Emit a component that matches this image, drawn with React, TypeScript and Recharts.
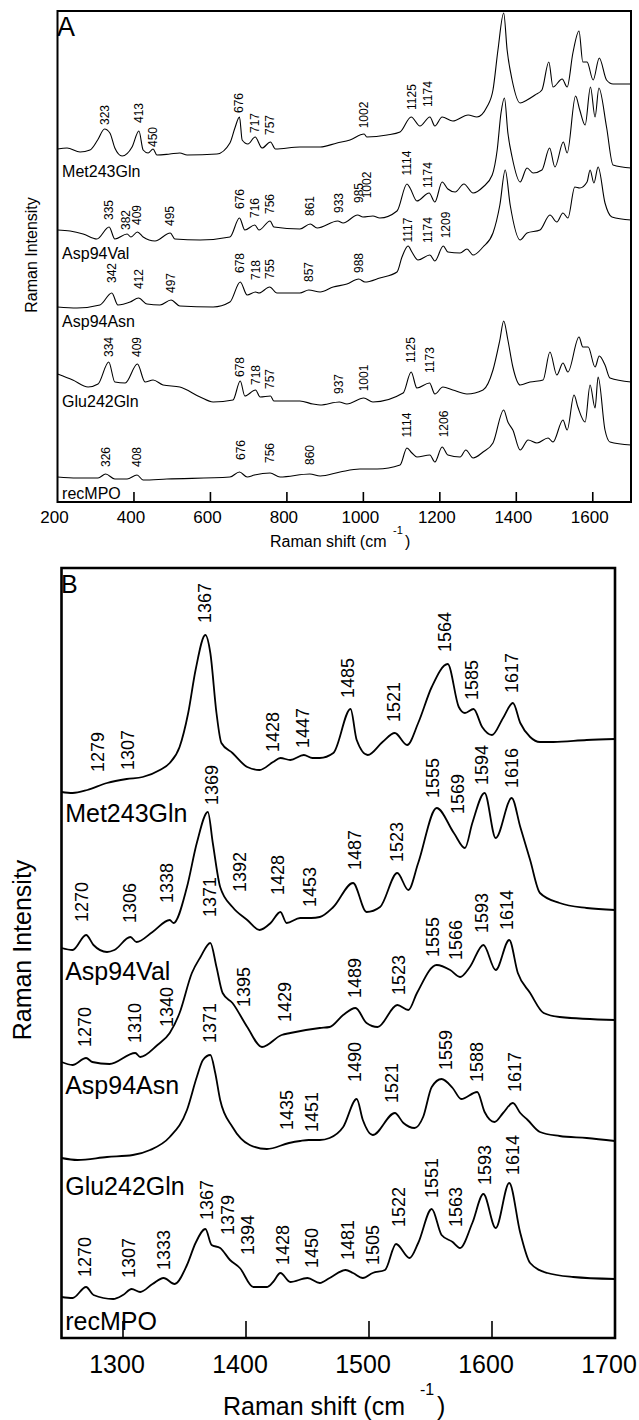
import React from "react";
import { ComposedChart, Line, Scatter, XAxis, YAxis, ReferenceArea } from "recharts";

type Pt = [number, number];
type Peak = [string, number, number];

const FONT = '"Liberation Sans", Arial, Helvetica, sans-serif';

// ---- Panel A (200-1700 cm-1), intensities in arbitrary offset units ----
const metA: Pt[] = [
  [200, 353], [225, 354], [259, 350], [285, 352], [305, 362], [323, 373], [337, 369], [350, 354],
  [369, 346], [395, 355], [413, 371], [424, 352], [437, 349], [450, 353], [460, 347], [494, 348],
  [520, 349], [539, 347], [617, 348], [651, 359], [664, 374], [676, 385], [683, 362], [698, 358],
  [717, 365], [735, 354], [757, 360], [770, 353], [834, 355], [887, 355], [931, 359], [965, 362],
  [1002, 368], [1009, 365], [1062, 367], [1096, 370], [1125, 385], [1148, 376], [1174, 385],
  [1187, 376], [1206, 385], [1234, 381], [1274, 387], [1297, 385], [1323, 395], [1339, 412],
  [1352, 452], [1367, 489], [1376, 452], [1389, 422], [1410, 399], [1428, 402], [1449, 407],
  [1467, 412], [1485, 440], [1496, 415], [1520, 423], [1533, 415], [1548, 449], [1564, 471],
  [1574, 440], [1585, 440], [1601, 422], [1617, 444], [1636, 422], [1653, 418], [1700, 418],
];
const valA: Pt[] = [
  [200, 272], [233, 271], [267, 268], [303, 263], [335, 275], [350, 263], [382, 268], [392, 265],
  [409, 270], [424, 265], [455, 261], [495, 269], [507, 263], [573, 262], [651, 265], [676, 284],
  [690, 272], [716, 277], [727, 272], [756, 281], [766, 275], [834, 273], [861, 278], [879, 274],
  [933, 281], [947, 279], [985, 287], [999, 285], [1025, 286], [1043, 284], [1088, 291],
  [1114, 318], [1122, 314], [1140, 301], [1172, 309], [1187, 300], [1206, 320], [1221, 313],
  [1240, 310], [1263, 318], [1287, 309], [1313, 315], [1337, 327], [1350, 352], [1360, 389],
  [1369, 404], [1378, 369], [1389, 345], [1410, 320], [1428, 334], [1444, 329], [1467, 332],
  [1487, 354], [1501, 335], [1523, 360], [1533, 349], [1555, 406], [1566, 392], [1580, 377],
  [1594, 415], [1606, 385], [1616, 414], [1636, 375], [1653, 337], [1700, 334],
];
const asnA: Pt[] = [
  [200, 195], [251, 194], [311, 197], [342, 209], [358, 197], [390, 200], [412, 204], [434, 198],
  [468, 197], [497, 202], [520, 196], [607, 195], [651, 200], [678, 220], [696, 207], [718, 210],
  [727, 209], [755, 215], [774, 209], [834, 209], [857, 212], [887, 210], [921, 215], [957, 218],
  [988, 223], [1004, 220], [1043, 224], [1088, 230], [1101, 245], [1117, 256], [1127, 250],
  [1143, 242], [1174, 247], [1187, 241], [1209, 256], [1221, 250], [1253, 249], [1271, 253],
  [1287, 247], [1313, 255], [1339, 269], [1357, 297], [1371, 332], [1384, 297], [1410, 262],
  [1428, 269], [1462, 272], [1488, 287], [1506, 280], [1522, 289], [1535, 284], [1553, 315],
  [1566, 314], [1585, 320], [1593, 332], [1603, 319], [1614, 335], [1632, 299], [1650, 285],
  [1700, 282],
];
const glnA: Pt[] = [
  [200, 128], [240, 122], [280, 115], [306, 118], [334, 140], [350, 120], [377, 119], [409, 138],
  [429, 120], [450, 122], [476, 117], [520, 115], [573, 105], [607, 100], [659, 102], [678, 121],
  [690, 106], [718, 112], [730, 105], [757, 106], [766, 101], [834, 101], [868, 98], [887, 97],
  [937, 100], [957, 98], [1001, 104], [1025, 100], [1104, 109], [1125, 130], [1140, 114],
  [1173, 119], [1187, 108], [1208, 115], [1234, 112], [1271, 108], [1313, 112], [1339, 132],
  [1357, 162], [1367, 181], [1378, 162], [1391, 135], [1410, 117], [1436, 120], [1470, 122],
  [1488, 150], [1506, 127], [1522, 139], [1535, 130], [1564, 165], [1574, 155], [1588, 155],
  [1606, 135], [1617, 146], [1632, 137], [1645, 124], [1700, 120],
];
const recA: Pt[] = [
  [200, 25], [251, 24], [306, 24], [326, 28], [350, 23], [382, 23], [408, 27], [424, 22],
  [486, 23], [651, 25], [676, 30], [696, 25], [715, 27], [756, 29], [782, 25], [860, 28],
  [887, 26], [939, 30], [991, 33], [1036, 33], [1096, 37], [1114, 54], [1127, 49], [1140, 45],
  [1174, 47], [1187, 40], [1206, 55], [1221, 47], [1253, 45], [1268, 52], [1287, 44], [1313, 50],
  [1339, 59], [1367, 92], [1378, 80], [1391, 72], [1410, 52], [1431, 62], [1454, 59], [1483, 64],
  [1496, 60], [1522, 82], [1533, 72], [1551, 107], [1561, 95], [1580, 80], [1593, 117],
  [1606, 94], [1614, 125], [1632, 72], [1645, 60], [1700, 57],
];

// peak labels: [text, position cm-1, level]
const peaksA: Peak[] = [
  ["323", 323, 387], ["413", 413, 389], ["450", 450, 365], ["676", 676, 399], ["717", 717, 379],
  ["757", 757, 377], ["1002", 1002, 387], ["1125", 1128, 405], ["1174", 1170, 408],
  ["335", 335, 292], ["382", 380, 282], ["409", 408, 287], ["495", 495, 286], ["676", 678, 303],
  ["716", 716, 294], ["756", 756, 298], ["861", 861, 296], ["933", 936, 299], ["985", 988, 309],
  ["1002", 1009, 317], ["1114", 1114, 339], ["1174", 1170, 327],
  ["342", 342, 229], ["412", 412, 223], ["497", 497, 219], ["678", 678, 239], ["718", 718, 232],
  ["755", 755, 233], ["857", 857, 230], ["988", 988, 239], ["1117", 1117, 272], ["1174", 1170, 272],
  ["1209", 1217, 277],
  ["334", 334, 155], ["409", 409, 155], ["678", 678, 135], ["718", 718, 127], ["757", 757, 123],
  ["937", 937, 118], ["1001", 1001, 124], ["1125", 1125, 152], ["1173", 1175, 142],
  ["326", 326, 45], ["408", 408, 45], ["676", 680, 52], ["756", 756, 49], ["860", 860, 47],
  ["1114", 1114, 77], ["1206", 1210, 78],
];

const names = ["Met243Gln", "Asp94Val", "Asp94Asn", "Glu242Gln", "recMPO"];
const nameLevelsA = [331, 249, 181, 101, 9];
const nameLevelsB = [525, 367, 253, 152, 17];

// ---- Panel B (1250-1700 cm-1) ----
const metB: Pt[] = [
  [1250, 546], [1259, 545], [1271, 548], [1287, 555], [1303, 559], [1316, 561], [1330, 568],
  [1338, 575], [1346, 591], [1353, 625], [1359, 668], [1367, 703], [1371, 685], [1376, 625],
  [1380, 595], [1389, 585], [1401, 571], [1411, 568], [1422, 576], [1428, 580], [1436, 578],
  [1447, 583], [1454, 580], [1460, 580], [1471, 585], [1485, 629], [1490, 598], [1499, 583],
  [1511, 596], [1521, 605], [1531, 593], [1540, 615], [1551, 651], [1564, 674], [1573, 631],
  [1578, 625], [1585, 629], [1592, 611], [1600, 603], [1609, 620], [1617, 635], [1623, 615],
  [1631, 601], [1639, 596], [1650, 596], [1677, 598], [1700, 599],
];
const valB: Pt[] = [
  [1250, 390], [1259, 388], [1270, 403], [1276, 393], [1287, 386], [1293, 388], [1306, 401],
  [1311, 396], [1324, 406], [1338, 418], [1341, 415], [1352, 451], [1360, 495], [1369, 526],
  [1373, 495], [1379, 451], [1389, 431], [1401, 418], [1411, 408], [1420, 415], [1428, 426],
  [1433, 415], [1444, 420], [1453, 420], [1460, 421], [1471, 431], [1487, 455], [1498, 426],
  [1509, 431], [1523, 465], [1532, 448], [1540, 475], [1555, 530], [1569, 505], [1578, 490],
  [1584, 515], [1594, 545], [1603, 500], [1616, 540], [1623, 511], [1631, 478], [1639, 445],
  [1655, 435], [1677, 430], [1700, 428],
];
const asnB: Pt[] = [
  [1250, 276], [1259, 273], [1270, 280], [1275, 276], [1289, 274], [1310, 285], [1314, 281],
  [1328, 293], [1338, 305], [1346, 325], [1356, 365], [1363, 381], [1371, 395], [1376, 371],
  [1381, 345], [1389, 335], [1401, 311], [1413, 291], [1429, 303], [1436, 305], [1460, 310],
  [1468, 311], [1479, 323], [1489, 330], [1498, 315], [1507, 311], [1523, 333], [1532, 328],
  [1539, 345], [1555, 373], [1566, 368], [1574, 361], [1582, 371], [1593, 393], [1603, 368],
  [1614, 398], [1621, 365], [1631, 345], [1642, 325], [1655, 321], [1700, 318],
];
const glnB: Pt[] = [
  [1250, 180], [1263, 178], [1287, 181], [1308, 183], [1322, 188], [1338, 201], [1352, 228],
  [1360, 261], [1365, 278], [1371, 283], [1375, 265], [1379, 238], [1389, 211], [1403, 193],
  [1417, 189], [1435, 195], [1444, 197], [1451, 198], [1460, 198], [1468, 200], [1479, 211],
  [1490, 239], [1495, 218], [1503, 203], [1521, 225], [1528, 215], [1537, 210], [1544, 221],
  [1551, 251], [1559, 259], [1568, 250], [1575, 239], [1588, 246], [1594, 226], [1602, 216],
  [1609, 225], [1617, 235], [1623, 225], [1629, 218], [1639, 206], [1655, 202], [1677, 200],
  [1700, 197],
];
const recB: Pt[] = [
  [1250, 41], [1259, 40], [1270, 51], [1276, 43], [1292, 39], [1300, 43], [1307, 49], [1314, 46],
  [1324, 54], [1333, 60], [1342, 54], [1352, 73], [1359, 95], [1367, 109], [1372, 93], [1379, 90],
  [1387, 78], [1395, 70], [1406, 51], [1417, 51], [1422, 56], [1428, 65], [1436, 56], [1450, 60],
  [1460, 55], [1468, 60], [1481, 68], [1487, 65], [1495, 60], [1503, 65], [1513, 68], [1522, 94],
  [1533, 80], [1540, 95], [1551, 129], [1559, 103], [1568, 96], [1574, 90], [1584, 115],
  [1593, 144], [1603, 110], [1614, 155], [1623, 105], [1631, 75], [1645, 65], [1666, 61],
  [1700, 59],
];

const peaksB: Peak[] = [
  ["1279", 1280, 586], ["1307", 1304, 588], ["1367", 1367, 735], ["1428", 1422, 606],
  ["1447", 1446, 610], ["1485", 1483, 660], ["1521", 1520, 636], ["1564", 1562, 706],
  ["1585", 1584, 658], ["1617", 1616, 665],
  ["1270", 1267, 436], ["1306", 1306, 435], ["1338", 1336, 455], ["1369", 1372, 553],
  ["1392", 1395, 466], ["1428", 1426, 463], ["1453", 1452, 451], ["1487", 1489, 488],
  ["1523", 1523, 496], ["1555", 1552, 560], ["1569", 1572, 544], ["1594", 1592, 573],
  ["1616", 1616, 570],
  ["1270", 1269, 311], ["1310", 1310, 315], ["1340", 1336, 331], ["1371", 1371, 441],
  ["1395", 1398, 351], ["1429", 1432, 336], ["1489", 1489, 360], ["1523", 1524, 363],
  ["1555", 1552, 401], ["1566", 1571, 398], ["1593", 1592, 425], ["1614", 1612, 428],
  ["1371", 1371, 315], ["1435", 1433, 228], ["1451", 1454, 226], ["1490", 1489, 276],
  ["1521", 1519, 255], ["1559", 1563, 288], ["1588", 1588, 276], ["1617", 1619, 266],
  ["1270", 1269, 81], ["1307", 1305, 80], ["1333", 1333, 88], ["1367", 1368, 138],
  ["1379", 1385, 123], ["1394", 1402, 103], ["1428", 1430, 93], ["1450", 1454, 90],
  ["1481", 1483, 98], ["1505", 1503, 93], ["1522", 1524, 131], ["1551", 1551, 160],
  ["1563", 1571, 131], ["1593", 1594, 173], ["1614", 1617, 183],
];

const ticksA = [200, 400, 600, 800, 1000, 1200, 1400, 1600];
const ticksB = [1300, 1400, 1500, 1600, 1700];

const toXY = (pts: Pt[]) => pts.map(([x, y]) => ({ x, y }));

const makeTick = (len: number, size: number, dy: number, dx: number, edges: number[]) => (props: any) => {
  const { x, y, payload } = props;
  return (
    <g>
      {!edges.includes(payload.value) && (
        <line x1={x} x2={x} y1={y} y2={y - len} stroke="#000" strokeWidth={1.6} />
      )}
      <text x={x + dx} y={y + dy} textAnchor="middle" fontSize={size} fontFamily={FONT} fill="#000">
        {payload.value}
      </text>
    </g>
  );
};

const peakShape = (size: number) => (props: any) => {
  const { cx, cy, payload } = props;
  return (
    <text
      x={cx}
      y={cy}
      transform={`rotate(-90 ${cx} ${cy})`}
      textAnchor="middle"
      dominantBaseline="central"
      fontSize={size}
      fontFamily={FONT}
      fill="#000"
    >
      {payload.text}
    </text>
  );
};

const nameShape = (size: number) => (props: any) => {
  const { cx, cy, payload } = props;
  return (
    <text x={cx} y={cy} dominantBaseline="central" fontSize={size} fontFamily={FONT} fill="#000">
      {payload.text}
    </text>
  );
};

interface PanelProps {
  spectra: Pt[][];
  peaks: Peak[];
  nameAt: number;
  nameLevels: number[];
  domain: [number, number];
  top: number;
  height: number;
  yMax: number;
  margin: { top: number; right: number; bottom: number; left: number };
  ticks: number[];
  tickLen: number;
  tickSize: number;
  tickDy: number;
  tickDx: number;
  peakSize: number;
  nameSize: number;
  lineWidth: number;
  frameWidth: number;
}

const Panel: React.FC<PanelProps> = (p) => {
  const peakData = p.peaks.map(([text, at, level]) => ({ x: at, y: level, text }));
  const nameData = names.map((text, i) => ({ x: p.nameAt, y: p.nameLevels[i], text }));
  return (
    <div style={{ position: "absolute", left: 0, top: p.top }}>
      <ComposedChart width={639} height={p.height} margin={p.margin}>
        <XAxis
          dataKey="x"
          type="number"
          domain={p.domain}
          ticks={p.ticks}
          axisLine={false}
          tickLine={false}
          tickSize={0}
          tickMargin={0}
          height={30}
          interval={0}
          tick={makeTick(p.tickLen, p.tickSize, p.tickDy, p.tickDx, [p.domain[0], p.domain[1]])}
        />
        <YAxis dataKey="y" type="number" domain={[0, p.yMax]} hide width={0} />
        {p.spectra.map((s, i) => (
          <Line
            key={i}
            data={toXY(s)}
            dataKey="y"
            type="monotone"
            stroke="#000"
            strokeWidth={p.lineWidth}
            dot={false}
            activeDot={false}
            isAnimationActive={false}
          />
        ))}
        <Scatter data={peakData} dataKey="y" shape={peakShape(p.peakSize)} isAnimationActive={false} />
        <Scatter data={nameData} dataKey="y" shape={nameShape(p.nameSize)} isAnimationActive={false} />
        <ReferenceArea
          x1={p.domain[0]}
          x2={p.domain[1]}
          y1={0}
          y2={p.yMax}
          fill="none"
          fillOpacity={0}
          stroke="#000"
          strokeWidth={p.frameWidth}
          ifOverflow="visible"
        />
      </ComposedChart>
    </div>
  );
};

export default function App() {
  return (
    <div style={{ position: "absolute", left: 0, top: 0, width: 639, height: 1420, background: "#fff" }}>
      <Panel
        spectra={[metA, valA, asnA, glnA, recA]}
        peaks={peaksA}
        nameAt={212}
        nameLevels={nameLevelsA}
        domain={[200, 1700]}
        top={0}
        height={560}
        yMax={491}
        margin={{ top: 11, right: 8, bottom: 28, left: 57.5 }}
        ticks={ticksA}
        tickLen={10}
        tickSize={17}
        tickDy={21}
        tickDx={-3}
        peakSize={12}
        nameSize={16}
        lineWidth={1.1}
        frameWidth={2}
      />
      <Panel
        spectra={[metB, valB, asnB, glnB, recB]}
        peaks={peaksB}
        nameAt={1253}
        nameLevels={nameLevelsB}
        domain={[1250, 1700]}
        top={560}
        height={860}
        yMax={770}
        margin={{ top: 8, right: 24, bottom: 52, left: 61.5 }}
        ticks={ticksB}
        tickLen={17}
        tickSize={25}
        tickDy={35}
        tickDx={-6}
        peakSize={18}
        nameSize={25}
        lineWidth={1.8}
        frameWidth={2.6}
      />
      <svg
        width={639}
        height={1420}
        style={{ position: "absolute", left: 0, top: 0, pointerEvents: "none" }}
        fontFamily={FONT}
      >
        <text x={57} y={36} fontSize={27}>A</text>
        <text x={61} y={593} fontSize={25}>B</text>
        <text x={270} y={547} fontSize={16}>Raman shift (cm</text>
        <text x={393} y={534} fontSize={11}>-1</text>
        <text x={405} y={547} fontSize={16}>)</text>
        <text x={223} y={1415} fontSize={25}>Raman shift (cm</text>
        <text x={420} y={1395} fontSize={16}>-1</text>
        <text x={437} y={1415} fontSize={25}>)</text>
        <text x={31} y={255} fontSize={16} textAnchor="middle" dominantBaseline="central" transform="rotate(-90 31 255)">
          Raman Intensity
        </text>
        <text x={22} y={950} fontSize={25} textAnchor="middle" dominantBaseline="central" transform="rotate(-90 22 950)">
          Raman Intensity
        </text>
      </svg>
    </div>
  );
}
